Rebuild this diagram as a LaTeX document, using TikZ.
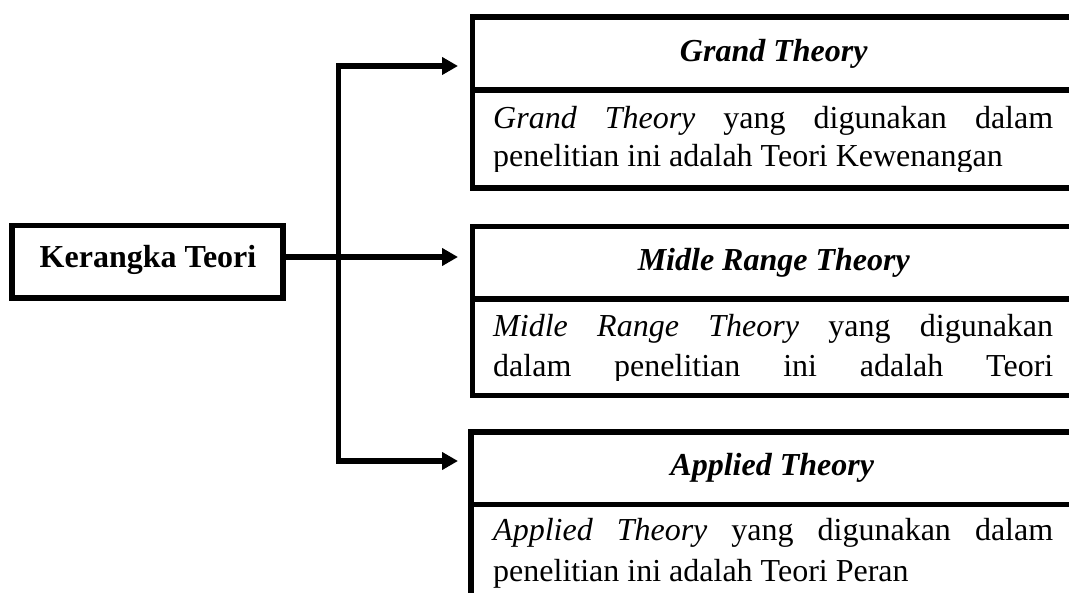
\documentclass[tikz,border=0pt]{standalone}
\usepackage{fontspec}
\setmainfont{Liberation Serif}
\usetikzlibrary{arrows.meta}
\tikzset{
  thick line/.style={line width=5.5pt, line join=miter, draw=black},
  framebox/.style={thick line, rectangle, inner sep=0pt},
  conn/.style={thick line, -{Triangle[length=16pt,width=17pt]}},
  conn2/.style={thick line, {Triangle[length=16pt,width=17pt]}-{Triangle[length=16pt,width=17pt]}},
  big/.style={font=\fontsize{32pt}{39pt}\selectfont},
  headtext/.style={big, font=\fontsize{32pt}{39pt}\selectfont\bfseries\itshape},
  bodyline/.style={big, inner sep=0pt, anchor=base west},
}
\newcommand{\jline}[1]{\makebox[560pt][s]{#1}}
\begin{document}
\begin{tikzpicture}[x=1pt,y=-1pt]
\useasboundingbox (0,0) rectangle (1069,593);
\clip (0,0) rectangle (1069,593);

% left box
\node[framebox, minimum width=271pt, minimum height=72.5pt] (kt) at (147.5,261.75) {};
\node[big, font=\fontsize{32pt}{39pt}\selectfont\bfseries, inner sep=0pt, anchor=base] (kttext) at (148,268) {Kerangka Teori};

% box 1
\node[framebox, minimum width=603pt, minimum height=73pt, anchor=north west, headtext] (g1h) at (469.5,14.5) {Grand Theory};
\node[framebox, minimum width=603pt, minimum height=98pt, anchor=north west] (g1b) at (469.5,87.5) {};
\begin{scope}
\clip (472,90) rectangle (1072,171.7);
\node[bodyline] (g1l1) at (493,128.5) {\jline{\textit{Grand Theory} yang digunakan dalam}};
\node[bodyline] (g1l2) at (493,167) {penelitian ini adalah Teori Kewenangan};
\end{scope}

% box 2
\node[framebox, minimum width=603pt, minimum height=72.6pt, anchor=north west, headtext] (g2h) at (469.5,223.7) {Midle Range Theory};
\node[framebox, minimum width=603pt, minimum height=96.7pt, anchor=north west] (g2b) at (469.5,296.3) {};
\begin{scope}
\clip (472,299) rectangle (1072,381);
\node[bodyline] (g2l1) at (493,337) {\jline{\textit{Midle Range Theory} yang digunakan}};
\node[bodyline] (g2l2) at (493,376.5) {\jline{dalam penelitian ini adalah Teori}};
\end{scope}

% box 3
\node[framebox, minimum width=603pt, minimum height=72.2pt, anchor=north west, headtext] (g3h) at (468,429.5) {Applied Theory};
\node[framebox, minimum width=603pt, minimum height=140pt, anchor=north west] (g3b) at (468,501.7) {};
\node[bodyline] (g3l1) at (493,540.5) {\jline{\textit{Applied Theory} yang digunakan dalam}};
\node[bodyline] (g3l2) at (493,581.5) {penelitian ini adalah Teori Peran};

% connectors
\coordinate (a1) at (458,66);
\coordinate (a2) at (458,257);
\coordinate (a3) at (458,461);
\coordinate (v1) at (338.5,66);
\coordinate (v3) at (338.5,461);
\draw[conn2] (a1) -- (v1) -- (v3) -- (a3);
\draw[conn] (kt.east |- a2) -- (a2);
\end{tikzpicture}
\end{document}
